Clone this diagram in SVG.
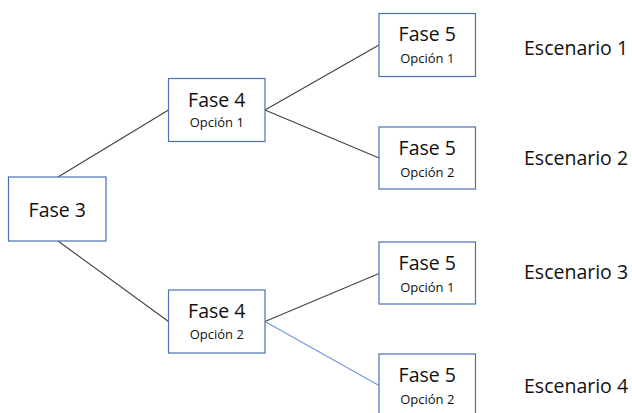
<svg xmlns="http://www.w3.org/2000/svg" width="632" height="413" viewBox="0 0 632 413">
  <style>
    .box { fill: #ffffff; stroke: #4a6fb5; stroke-width: 1.2; }
    .title { font-family: "Open Sans", "Noto Sans", sans-serif; font-size: 19.5px; fill: #111111; text-anchor: middle; }
    .sub { font-family: "Open Sans", "Noto Sans", sans-serif; font-size: 13px; fill: #111111; text-anchor: middle; }
    .scen { font-family: "Open Sans", "Noto Sans", sans-serif; font-size: 19.5px; fill: #111111; }
    .link { stroke: #404040; stroke-width: 1.1; fill: none; }
    .link.alt { stroke: #6f96d8; }
  </style>

  <g id="connectors">
    <line class="link" x1="58" y1="177" x2="168.5" y2="110"/>
    <line class="link" x1="58" y1="241" x2="168.5" y2="321.5"/>
    <line class="link" x1="265" y1="110" x2="379" y2="45"/>
    <line class="link" x1="265" y1="110" x2="379" y2="158"/>
    <line class="link" x1="265" y1="321.5" x2="379" y2="273.5"/>
    <line class="link alt" x1="265" y1="321.5" x2="379" y2="385.5"/>
  </g>

  <g id="fase3">
    <rect class="box" x="8.5" y="177" width="97.5" height="64"/>
    <text class="title" x="57.25" y="216.5">Fase 3</text>
  </g>

  <g id="fase4-op1">
    <rect class="box" x="168.5" y="78.5" width="96.5" height="63"/>
    <text class="title" x="216.75" y="106.5">Fase 4</text>
    <text class="sub" x="216.75" y="127">Opción 1</text>
  </g>

  <g id="fase4-op2">
    <rect class="box" x="168.5" y="290" width="96.5" height="63"/>
    <text class="title" x="216.75" y="318">Fase 4</text>
    <text class="sub" x="216.75" y="338.5">Opción 2</text>
  </g>

  <g id="fase5-a">
    <rect class="box" x="379" y="13.5" width="96.5" height="63"/>
    <text class="title" x="427.25" y="41">Fase 5</text>
    <text class="sub" x="427.25" y="63">Opción 1</text>
  </g>

  <g id="fase5-b">
    <rect class="box" x="379" y="127" width="96.5" height="62"/>
    <text class="title" x="427.25" y="155">Fase 5</text>
    <text class="sub" x="427.25" y="176.5">Opción 2</text>
  </g>

  <g id="fase5-c">
    <rect class="box" x="379" y="242" width="96.5" height="62"/>
    <text class="title" x="427.25" y="270">Fase 5</text>
    <text class="sub" x="427.25" y="291.5">Opción 1</text>
  </g>

  <g id="fase5-d">
    <rect class="box" x="379" y="354" width="96.5" height="63"/>
    <text class="title" x="427.25" y="382">Fase 5</text>
    <text class="sub" x="427.25" y="403.5">Opción 2</text>
  </g>

  <g id="escenarios">
    <text class="scen" x="524" y="55">Escenario 1</text>
    <text class="scen" x="524" y="165">Escenario 2</text>
    <text class="scen" x="524" y="279">Escenario 3</text>
    <text class="scen" x="524" y="393">Escenario 4</text>
  </g>
</svg>
